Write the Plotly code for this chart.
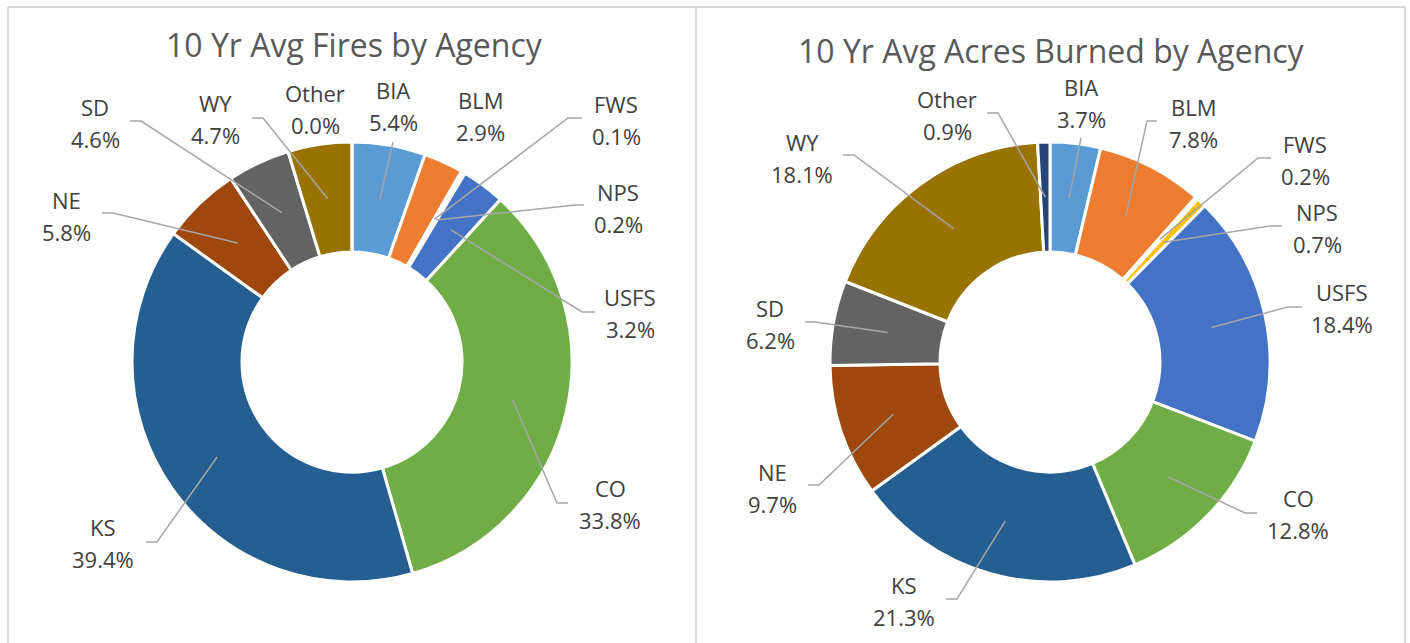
import math
import plotly.graph_objects as go

# ---------------- data ----------------
agencies = ["BIA", "BLM", "FWS", "NPS", "USFS", "CO", "KS", "NE", "SD", "WY", "Other"]
fires_pct = [5.4, 2.9, 0.1, 0.2, 3.2, 33.8, 39.4, 5.8, 4.6, 4.7, 0.0]
acres_pct = [3.7, 7.8, 0.2, 0.7, 18.4, 12.8, 21.3, 9.7, 6.2, 18.1, 0.9]
titles = ["10 Yr Avg Fires by Agency", "10 Yr Avg Acres Burned by Agency"]

# ---------------- styles / layout ----------------
colors = ["#5B9BD5", "#ED7D31", "#A5A5A5", "#FFC000", "#4472C4", "#70AD47",
          "#255E91", "#9E480E", "#636363", "#997300", "#264478"]
W, H = 1410, 643
R = 220
FONT = "Open Sans"

# label block centers (px) and leader-line start/elbow (px) per chart
charts = [
    dict(values=fires_pct, title=titles[0], center=(352, 362), title_pos=(355, 44),
         labels={"BIA": (393, 106), "BLM": (480, 116), "FWS": (616, 120), "NPS": (618, 208),
                 "USFS": (630, 313), "CO": (610, 504), "KS": (103, 543), "NE": (66, 216),
                 "SD": (95, 123), "WY": (215, 119), "Other": (315, 109)},
         leaders={"BIA": ((393, 142), (393, 142)), "FWS": ((582, 118), (568, 118)),
                  "NPS": ((584, 205), (575, 205)), "USFS": ((595, 312), (582, 312)),
                  "CO": ((568, 503), (557, 503)), "KS": ((146, 542), (157, 542)),
                  "NE": ((102, 213), (113, 213)), "SD": ((130, 121), (141, 121)),
                  "WY": ((252, 118), (263, 118))}),
    dict(values=acres_pct, title=titles[1], center=(1050, 362), title_pos=(1051, 50),
         labels={"BIA": (1081, 103), "BLM": (1193, 123), "FWS": (1305, 160), "NPS": (1317, 228),
                 "USFS": (1342, 308), "CO": (1298, 514), "KS": (904, 601), "NE": (773, 488),
                 "SD": (770, 324), "WY": (802, 158), "Other": (947, 115)},
         leaders={"BIA": ((1081, 138), (1081, 138)), "BLM": ((1157, 121), (1147, 121)),
                  "FWS": ((1271, 158), (1258, 158)), "NPS": ((1282, 226), (1270, 226)),
                  "USFS": ((1302, 307), (1288, 307)), "CO": ((1257, 513), (1245, 513)),
                  "KS": ((946, 599), (957, 599)), "NE": ((808, 485), (819, 485)),
                  "SD": ((805, 322), (815, 322)), "WY": ((843, 155), (854, 155)),
                  "Other": ((987, 113), (998, 113))}),
]


def px(x):
    return x / W


def py(y):
    return 1 - y / H


fig = go.Figure()
annotations = []
shapes = []

for ch in charts:
    cx, cy = ch["center"]
    vals = ch["values"]
    fig.add_trace(go.Pie(
        labels=agencies, values=vals, sort=False, direction="clockwise", rotation=0,
        hole=0.5, textinfo="none", hoverinfo="label+percent",
        marker=dict(colors=colors, line=dict(color="white", width=3)),
        domain=dict(x=[px(cx - R), px(cx + R)], y=[py(cy + R), py(cy - R)]),
        showlegend=False,
    ))
    total = sum(vals)
    cum = 0.0
    for name, v in zip(agencies, vals):
        mid = (cum + v / 2) / total * 2 * math.pi
        cum += v
        lx, ly = ch["labels"][name]
        annotations.append(dict(x=px(lx), y=py(ly - 16), xref="paper", yref="paper",
                                text=name, showarrow=False, xanchor="center", yanchor="middle",
                                font=dict(family=FONT, size=22, color="#404040")))
        annotations.append(dict(x=px(lx), y=py(ly + 16), xref="paper", yref="paper",
                                text=f"{v:.1f}%", showarrow=False, xanchor="center", yanchor="middle",
                                font=dict(family=FONT, size=22, color="#404040")))
        if name in ch["leaders"]:
            (sx, sy), (ex, ey) = ch["leaders"][name]
            rm = R * 0.75
            tx = cx + rm * math.sin(mid)
            ty = cy - rm * math.cos(mid)
            shapes.append(dict(type="path", xref="paper", yref="paper",
                               path=f"M {px(sx)},{py(sy)} L {px(ex)},{py(ey)} L {px(tx)},{py(ty)}",
                               line=dict(color="#A6A6A6", width=1.5)))
    tx_, ty_ = ch["title_pos"]
    annotations.append(dict(x=px(tx_), y=py(ty_), xref="paper", yref="paper", text=ch["title"],
                            showarrow=False, xanchor="center", yanchor="middle",
                            font=dict(family=FONT, size=32, color="#595959")))

# chart frames
frame = dict(color="#D9D9D9", width=2)
for (x0, y0, x1, y1) in [(8, 7, 1405, 7), (8, 7, 8, 643), (696, 7, 696, 643), (1405, 7, 1405, 643)]:
    shapes.append(dict(type="line", xref="paper", yref="paper", x0=px(x0), y0=py(y0),
                       x1=px(x1), y1=py(y1), line=frame, layer="below"))

fig.update_layout(width=W, height=H, margin=dict(l=0, r=0, t=0, b=0),
                  paper_bgcolor="white", plot_bgcolor="white",
                  annotations=annotations, shapes=shapes)

fig.write_html("out.html", config={"displayModeBar": False},
               post_script="document.body.style.margin='0px';document.body.style.overflow='hidden';")
